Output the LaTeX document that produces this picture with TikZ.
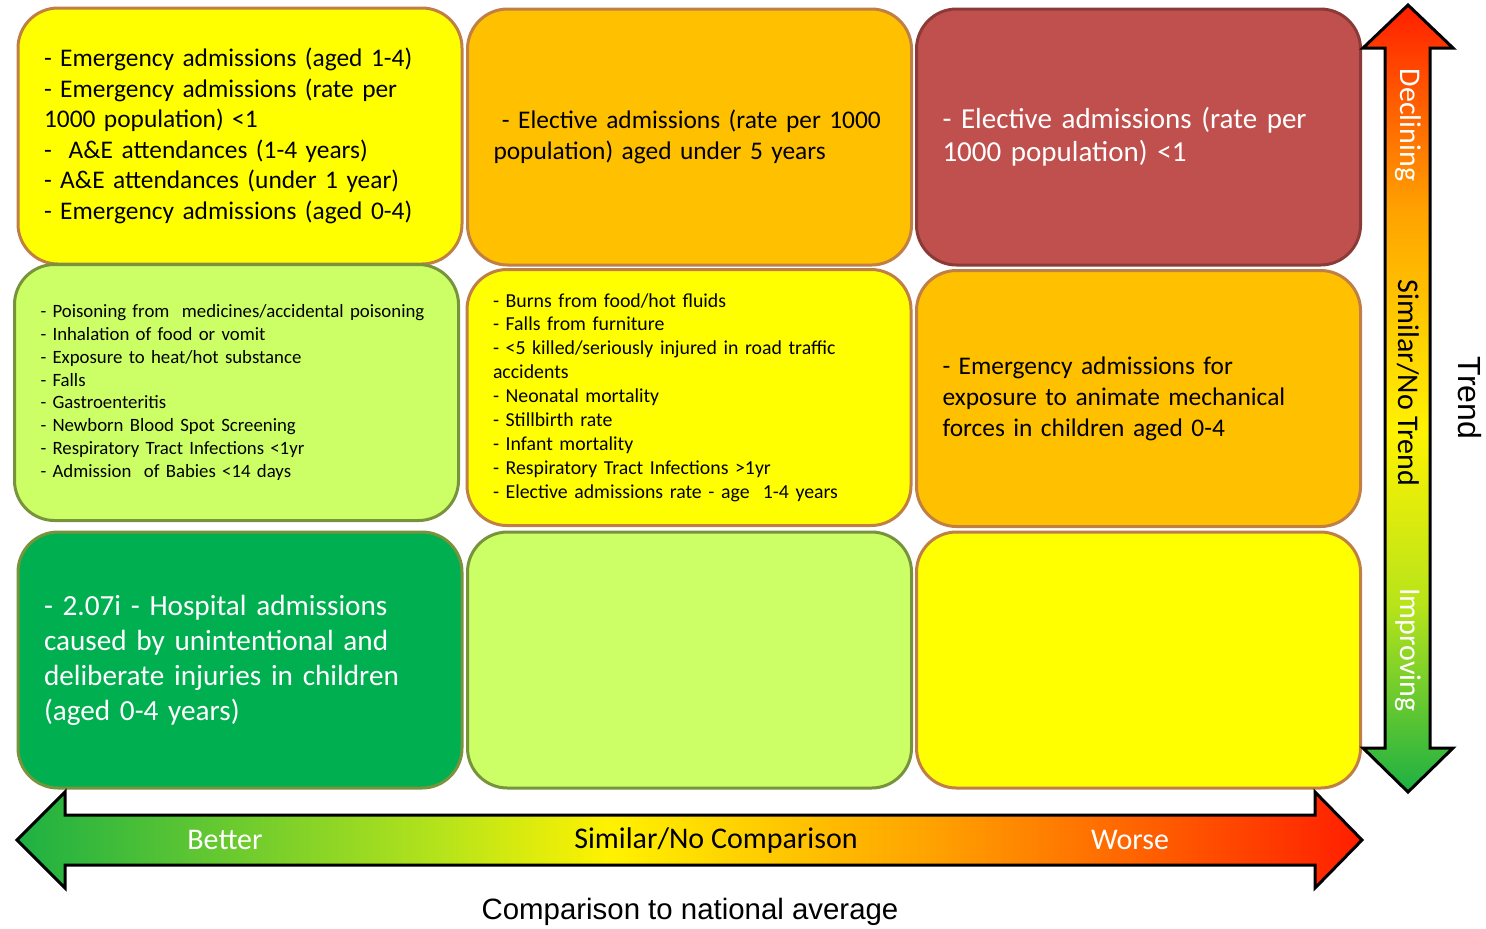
\documentclass[tikz,border=0pt]{standalone}
\usepackage{fontspec}
\setmainfont{Carlito}
\newfontfamily\arialfont{Liberation Sans}

\definecolor{cellyellow}{HTML}{FFFF00}
\definecolor{cellorange}{HTML}{FFC000}
\definecolor{cellred}{HTML}{C0504D}
\definecolor{celllime}{HTML}{CCFF66}
\definecolor{cellgreen}{HTML}{00B050}
\definecolor{edgebrown}{HTML}{BF7F45}
\definecolor{edgered}{HTML}{8C3A38}
\definecolor{edgeolive}{HTML}{77933C}
\definecolor{arrgreen}{HTML}{1DB043}
\definecolor{arrlime}{HTML}{B8E41A}
\definecolor{arryellow}{HTML}{FFF200}
\definecolor{arrorange}{HTML}{FFA200}
\definecolor{arrred}{HTML}{FF1E00}

\pgfdeclarehorizontalshading{cmpshade}{100bp}{color(0bp)=(arrgreen); color(25bp)=(arrgreen); color(41bp)=(arrlime); color(47bp)=(arryellow); color(59bp)=(arrorange); color(75bp)=(arrred); color(100bp)=(arrred)}
\pgfdeclareverticalshading{trendshade}{100bp}{color(0bp)=(arrgreen); color(25bp)=(arrgreen); color(37bp)=(arrlime); color(48bp)=(arryellow); color(62bp)=(arrorange); color(75bp)=(arrred); color(100bp)=(arrred)}

\begin{document}
\begin{tikzpicture}[x=0.5pt, y=-0.5pt,
    cell/.style={rounded corners=20pt, line width=1.5pt, minimum width=222pt,
      minimum height=128pt, text width=196pt, inner xsep=13pt, align=left},
    big/.style={font=\fontsize{12.7pt}{15.25pt}\selectfont},
    small/.style={font=\fontsize{9.4pt}{11.4pt}\selectfont},
    arrlabel/.style={font=\fontsize{15pt}{17pt}\selectfont}]
  \useasboundingbox (0,0) rectangle (1486,928);

  \node[cell, big, fill=cellyellow, draw=edgebrown] (c11) at (240,136)
    {- Emergency admissions (aged 1-4)\\
     - Emergency admissions (rate per\\
     1000 population) <1\\
     - \ A\&E attendances (1-4 years)\\
     - A\&E attendances (under 1 year)\\
     - Emergency admissions (aged 0-4)};
  \node[cell, big, fill=cellorange, draw=edgebrown] (c12) at (689.5,137)
    {\ - Elective admissions (rate per 1000\\
     population) aged under 5 years};
  \node[cell, fill=cellred, draw=edgered, text=white,
        font=\fontsize{14.5pt}{16.5pt}\selectfont] (c13) at (1138.5,137)
    {- Elective admissions (rate per\\
     1000 population) <1};

  \node[cell, small, fill=celllime, draw=edgeolive] (c21) at (236.5,392.5)
    {- Poisoning from \ medicines/accidental poisoning\\
     - Inhalation of food or vomit\\
     - Exposure to heat/hot substance\\
     - Falls\\
     - Gastroenteritis\\
     - Newborn Blood Spot Screening\\
     - Respiratory Tract Infections <1yr\\
     - Admission \ of Babies <14 days};
  \node[cell, fill=cellyellow, draw=edgebrown,
        font=\fontsize{9.9pt}{11.95pt}\selectfont] (c22) at (689,397.5)
    {- Burns from food/hot fluids\\
     - Falls from furniture\\
     - <5 killed/seriously injured in road traffic\\
     accidents\\
     - Neonatal mortality\\
     - Stillbirth rate\\
     - Infant mortality\\
     - Respiratory Tract Infections >1yr\\
     - Elective admissions rate - age \ 1-4 years};
  \node[cell, fill=cellorange, draw=edgebrown,
        font=\fontsize{12.7pt}{15.5pt}\selectfont] (c23) at (1138.5,398.5)
    {- Emergency admissions for\\
     exposure to animate mechanical\\
     forces in children aged 0-4};

  \node[cell, fill=cellgreen, draw=edgeolive, text=white,
        font=\fontsize{14.6pt}{17.5pt}\selectfont] (c31) at (240,660)
    {- 2.07i - Hospital admissions\\
     caused by unintentional and\\
     deliberate injuries in children\\
     (aged 0-4 years)};
  \node[cell, fill=celllime, draw=edgeolive] (c32) at (689.5,660) {};
  \node[cell, fill=cellyellow, draw=edgebrown] (c33) at (1138.5,660) {};

  \shadedraw[shading=cmpshade, draw=black, line width=1.5pt, line join=miter]
    (17,840) -- (65,792) -- (65,815) -- (1315,815) -- (1315,792) -- (1362,840)
    -- (1315,888) -- (1315,865) -- (65,865) -- (65,888) -- cycle;
  \shadedraw[shading=trendshade, draw=black, line width=1.5pt, line join=miter]
    (1408,5) -- (1453,48) -- (1430,48) -- (1430,748) -- (1453,748) -- (1408,792)
    -- (1363,748) -- (1385,748) -- (1385,48) -- (1363,48) -- cycle;

  \node[arrlabel, text=white] (better) at (225,840) {Better};
  \node[arrlabel] (simcmp) at (716,840) {Similar/No Comparison};
  \node[arrlabel, text=white] (worse) at (1130,840) {Worse};

  \node[arrlabel, text=white, rotate=-90] (declining) at (1408,125) {Declining};
  \node[arrlabel, rotate=-90] (simtrend) at (1408,383) {Similar/No Trend};
  \node[arrlabel, text=white, rotate=-90] (improving) at (1408,650) {Improving};

  \node[font=\arialfont\fontsize{16pt}{18pt}\selectfont, rotate=-90] (trend) at (1470,398) {Trend};
  \node[font=\arialfont\fontsize{14.7pt}{16pt}\selectfont] (cmpnat) at (690,912) {Comparison to national average};
\end{tikzpicture}
\end{document}
